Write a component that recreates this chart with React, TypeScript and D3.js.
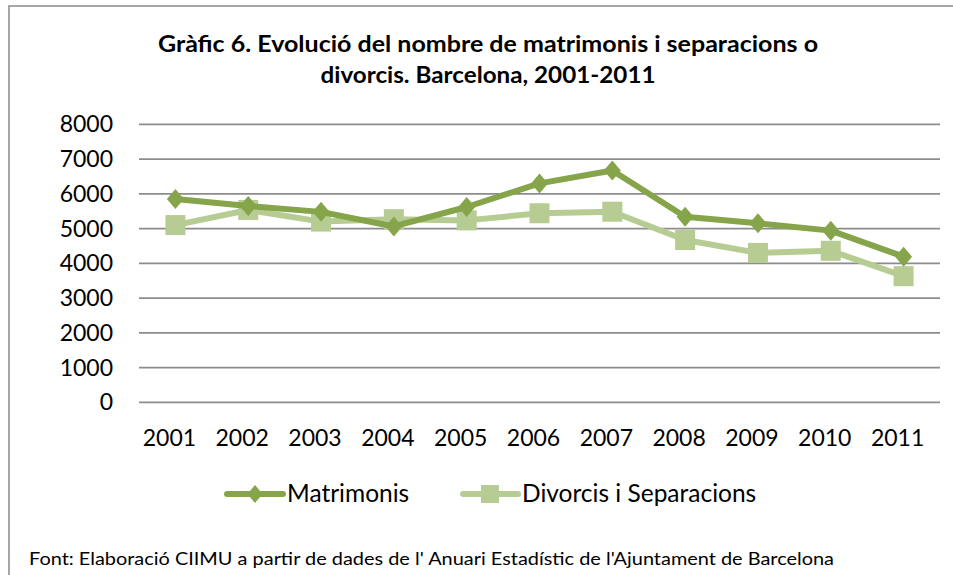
import React from "react";
import * as d3 from "d3";

const years = ["2001","2002","2003","2004","2005","2006","2007","2008","2009","2010","2011"];
const matrimonis = [5850, 5650, 5480, 5060, 5620, 6300, 6670, 5340, 5150, 4940, 4190];
const divorcis = [5100, 5535, 5200, 5270, 5235, 5440, 5485, 4670, 4300, 4360, 3630];
const yTicks = [0, 1000, 2000, 3000, 4000, 5000, 6000, 7000, 8000];
const seriesNames = ["Matrimonis", "Divorcis i Separacions"];
const titleLines = [
  "Gràfic 6. Evolució del nombre de matrimonis i separacions o",
  "divorcis. Barcelona, 2001-2011",
];
const footer = "Font: Elaboració CIIMU a partir de dades de l' Anuari Estadístic de l'Ajuntament de Barcelona";

const W = 953, H = 575;
const FONT = "Lato, 'Open Sans', sans-serif";
const DARK = "#86a44a";
const LIGHT = "#b7cc93";

export default function App() {
  const x = d3.scaleBand<string>().domain(years).range([139, 940]);
  const y = d3.scaleLinear().domain([0, 8000]).range([402.3, 124.3]);
  const cx = (yr: string) => (x(yr) as number) + x.bandwidth() / 2;
  const line = d3.line<number>().x((_, i) => cx(years[i])).y((d) => y(d));

  const diamond = (px: number, py: number, r = 10) =>
    `M${px},${py - r}L${px + r * 0.85},${py}L${px},${py + r}L${px - r * 0.85},${py}Z`;

  return (
    <svg width={W} height={H} style={{ position: "absolute", left: 0, top: 0, background: "#fff" }}>
      <rect x={9} y={6} width={960} height={600} fill="#fff" stroke="#8a8a8a" strokeWidth={1.5} />
      {titleLines.map((t, i) => (
        <text key={i} x={488} y={52 + i * 31} textAnchor="middle" fontFamily={FONT} fontWeight={700}
          fontSize={22} fill="#000" textLength={i === 0 ? 660 : 335} lengthAdjust="spacingAndGlyphs">{t}</text>
      ))}
      {yTicks.map((t) => (
        <g key={t}>
          <line x1={139} x2={940} y1={y(t)} y2={y(t)} stroke="#8c8c8c" strokeWidth={1.8} />
          <text x={113} y={y(t) + 8} textAnchor="end" fontFamily={FONT} fontSize={23} fill="#000">{t}</text>
        </g>
      ))}
      {years.map((yr) => (
        <text key={yr} x={cx(yr) - 6} y={446} textAnchor="middle" fontFamily={FONT} fontSize={23} fill="#000">{yr}</text>
      ))}
      <path d={line(divorcis) as string} fill="none" stroke={LIGHT} strokeWidth={6} strokeLinejoin="round" />
      {divorcis.map((v, i) => (
        <rect key={i} x={cx(years[i]) - 10} y={y(v) - 10} width={20} height={20} fill={LIGHT} />
      ))}
      <path d={line(matrimonis) as string} fill="none" stroke={DARK} strokeWidth={6} strokeLinejoin="round" />
      {matrimonis.map((v, i) => (
        <path key={i} d={diamond(cx(years[i]), y(v))} fill={DARK} />
      ))}
      {/* legend */}
      <g>
        <line x1={227} x2={283} y1={494} y2={494} stroke={DARK} strokeWidth={6} strokeLinecap="round" />
        <path d={diamond(255, 494, 9)} fill={DARK} />
        <text x={287} y={502} fontFamily={FONT} fontSize={24.5} fill="#000">{seriesNames[0]}</text>
        <line x1={463} x2={518} y1={494} y2={494} stroke={LIGHT} strokeWidth={6} strokeLinecap="round" />
        <rect x={481} y={485} width={18} height={18} fill={LIGHT} />
        <text x={522} y={502} fontFamily={FONT} fontSize={24.5} fill="#000">{seriesNames[1]}</text>
      </g>
      <text x={29} y={565} fontFamily={FONT} fontSize={17} fill="#000" textLength={805} lengthAdjust="spacingAndGlyphs">{footer}</text>
    </svg>
  );
}
